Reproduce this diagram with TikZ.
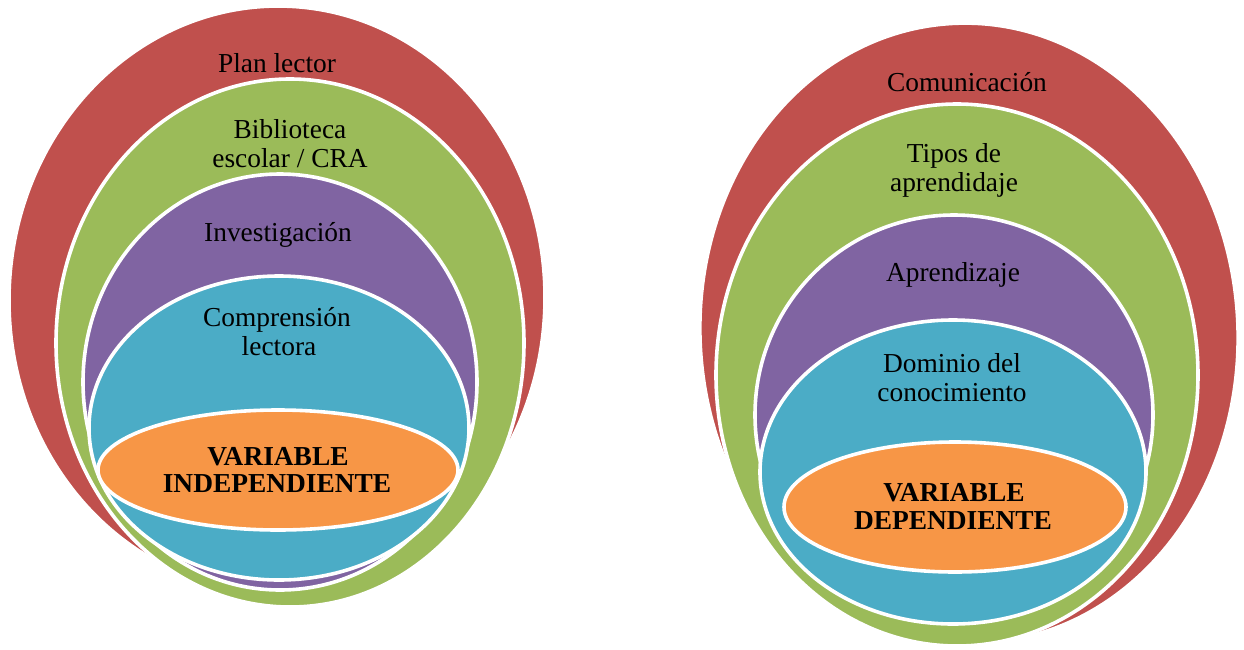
\documentclass[tikz,border=0pt]{standalone}
\usepackage{fontspec}
\setmainfont{Liberation Serif}
\definecolor{cred}{HTML}{C0504D}
\definecolor{cgreen}{HTML}{9BBB59}
\definecolor{cpurple}{HTML}{8064A2}
\definecolor{cteal}{HTML}{4BACC6}
\definecolor{corange}{HTML}{F79646}
\begin{document}
\begin{tikzpicture}[x=0.5pt,y=-0.5pt,
  ring/.style={draw=white, line width=1.8pt},
  lbl/.style={font=\fontsize{13.7}{14.5}\selectfont, text=black, inner sep=0pt, anchor=base},
  blbl/.style={lbl, font=\fontsize{13.7}{14.5}\selectfont\bfseries}]
\useasboundingbox (0,0) rectangle (1244,649);
\fill[white] (0,0) rectangle (1244,649);
% ---------- left target ----------
\filldraw[ring, fill=cred, rotate around={-1.5:(277,299)}] (277,299) ellipse [x radius=268, y radius=293];
\filldraw[ring, fill=cgreen]  (290,343) ellipse [x radius=234, y radius=264];
\filldraw[ring, fill=cpurple] (280,382) ellipse [x radius=197, y radius=208];
\filldraw[ring, fill=cteal]   (279,428) ellipse [x radius=190, y radius=152];
\filldraw[ring, fill=corange] (278,470) ellipse [x radius=180, y radius=60];
\node[lbl]  (pl)  at (277,72)  {Plan lector};
\node[lbl]  (bi1) at (290,138) {Biblioteca};
\node[lbl]  (bi2) at (290,167) {escolar / CRA};
\node[lbl]  (inv) at (278,241) {Investigación};
\node[lbl]  (co1) at (277,326) {Comprensión};
\node[lbl]  (co2) at (279,355) {lectora};
\node[blbl] (vi1) at (278,465) {VARIABLE};
\node[blbl] (vi2) at (277,492) {INDEPENDIENTE};
% ---------- right target ----------
\filldraw[ring, fill=cred, rotate around={3:(969,333)}] (969,333) ellipse [x radius=269, y radius=310];
\filldraw[ring, fill=cgreen]  (957,375) ellipse [x radius=241, y radius=271];
\filldraw[ring, fill=cpurple] (954,415) ellipse [x radius=199, y radius=200];
\filldraw[ring, fill=cteal]   (953,472) ellipse [x radius=193, y radius=152];
\filldraw[ring, fill=corange] (955,507) ellipse [x radius=171, y radius=65];
\node[lbl]  (com) at (967,91)  {Comunicación};
\node[lbl]  (ti1) at (954,162) {Tipos de};
\node[lbl]  (ti2) at (954,191) {aprendidaje};
\node[lbl]  (apr) at (953,281) {Aprendizaje};
\node[lbl]  (do1) at (952,372) {Dominio del};
\node[lbl]  (do2) at (952,401) {conocimiento};
\node[blbl] (vd1) at (954,501) {VARIABLE};
\node[blbl] (vd2) at (953,529) {DEPENDIENTE};
\end{tikzpicture}
\end{document}
